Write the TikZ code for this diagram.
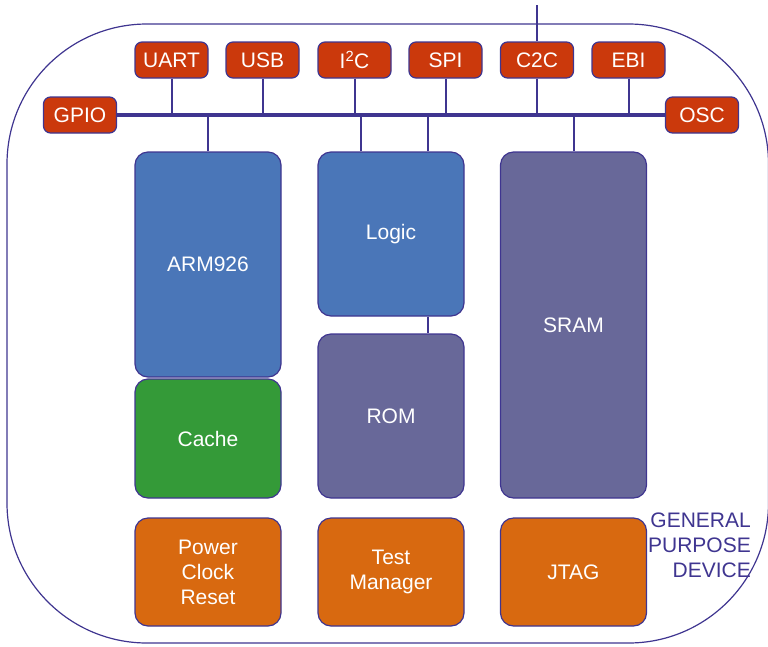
\documentclass[tikz,border=0pt]{standalone}
\usepackage{fontspec}
\setmainfont{Liberation Sans}
\definecolor{edge}{HTML}{3F3590}
\definecolor{portred}{HTML}{CB390C}
\definecolor{coreblue}{HTML}{4A76B8}
\definecolor{cachegreen}{HTML}{349A38}
\definecolor{memgray}{HTML}{686899}
\definecolor{sysorange}{HTML}{D86910}
\begin{document}
\begin{tikzpicture}[x=1pt,y=-1pt,
  lbl/.style={font=\fontsize{21}{25}\selectfont, text=white, align=center},
  port/.style={lbl, draw=edge, line width=1.2pt, fill=portred, rounded corners=7pt,
    minimum width=73pt, minimum height=36pt, inner sep=0pt},
  blk/.style={lbl, draw=edge, line width=1.2pt, rounded corners=13pt,
    minimum width=146pt, inner sep=0pt},
  wire/.style={draw=edge, line width=2pt},
  buswire/.style={draw=edge, line width=4.5pt}
]
\useasboundingbox (0,0) rectangle (768,646);
% outer device outline
\draw[edge, line width=1.2pt, rounded corners=140pt] (7,24) rectangle (768.5,643);

% ports
\node[port] (gpio) at (80,115) {GPIO};
\node[port] (osc) at (702,115) {OSC};
\node[port] (uart) at (171.5,60) {UART};
\node[port] (usb) at (262.5,60) {USB};
\node[port] (i2c) at (354.5,60) {I\textsuperscript{2}C};
\node[port] (spi) at (445.5,60) {SPI};
\node[port] (c2c) at (537,60) {C2C};
\node[port] (ebi) at (628.5,60) {EBI};
\coordinate (ext) at (537,5);

% blocks
\node[blk, fill=coreblue, minimum height=225pt] (arm) at (208,264.5) {ARM926};
\node[blk, fill=cachegreen, minimum height=119pt] (cache) at (208,438.5) {Cache};
\node[blk, fill=coreblue, minimum height=164pt] (logic) at (391,234) {Logic};
\node[blk, fill=memgray, minimum height=164pt] (rom) at (391,416) {ROM};
\node[blk, fill=memgray, minimum height=346pt] (sram) at (573.5,325) {SRAM};
\node[blk, fill=sysorange, minimum height=108pt] (pcr) at (208,572) {Power\\Clock\\Reset};
\node[blk, fill=sysorange, minimum height=108pt] (test) at (391,572) {Test\\Manager};
\node[blk, fill=sysorange, minimum height=108pt] (jtag) at (573.5,572) {JTAG};

\node[font=\fontsize{21}{25}\selectfont, text=edge, align=right, inner sep=0pt, anchor=east] (gpd) at (751,545) {GENERAL\\PURPOSE\\DEVICE};

% connectors
\foreach \n in {uart,usb,i2c,spi,ebi}
  \draw[wire] (\n.south) -- (\n.south |- gpio.east);
\draw[wire] (ext) -- (c2c.north);
\draw[wire] (c2c.south) -- (c2c.south |- gpio.east);
\draw[wire] (arm.north) -- (arm.north |- gpio.east);
\draw[wire] ([xshift=-30pt]logic.north) -- ([xshift=-30pt]logic.north |- gpio.east);
\draw[wire] ([xshift=37pt]logic.north) -- ([xshift=37pt]logic.north |- gpio.east);
\draw[wire] ([xshift=37pt]logic.south) -- ([xshift=37pt]rom.north);
\draw[wire] (sram.north) -- (sram.north |- gpio.east);
\draw[buswire] (gpio.east) -- (osc.west);
\end{tikzpicture}
\end{document}
